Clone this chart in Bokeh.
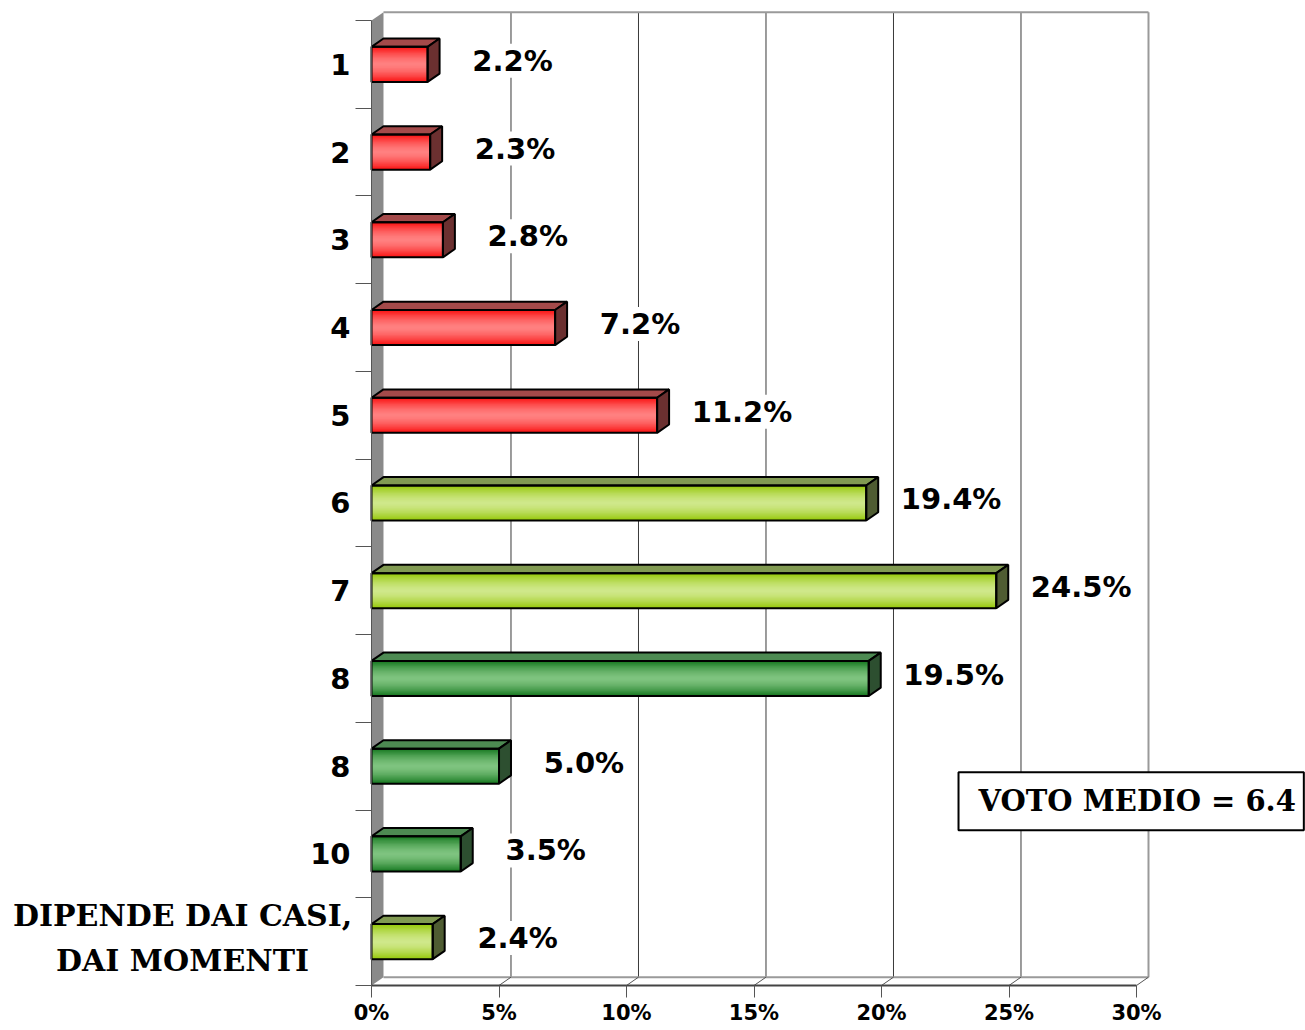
from bokeh.plotting import figure
from bokeh.models import Range1d, FixedTicker, Label
from bokeh.core.properties import value
from bokeh.embed import file_html
from bokeh.resources import INLINE

# ---- data -------------------------------------------------------------
categories = ["1", "2", "3", "4", "5", "6", "7", "8", "8", "10",
              "DIPENDE DAI CASI,\nDAI MOMENTI"]
values = [2.2, 2.3, 2.8, 7.2, 11.2, 19.4, 24.5, 19.5, 5.0, 3.5, 2.4]
groups = ["red", "red", "red", "red", "red",
          "light", "light", "dark", "dark", "dark", "light"]
x_ticks = [0, 5, 10, 15, 20, 25, 30]
x_tick_labels = ["0%", "5%", "10%", "15%", "20%", "25%", "30%"]
mean_text = "VOTO MEDIO = 6.4"

# ---- styles -----------------------------------------------------------
PAL = {
    "red":   dict(edge=(250, 20, 20), mid=(255, 130, 130), top="#a44a4a", side="#6b3030"),
    "light": dict(edge=(150, 200, 10), mid=(208, 232, 140), top="#819a52", side="#4f5c32"),
    "dark":  dict(edge=(24, 122, 34), mid=(128, 196, 128), top="#4d8a52", side="#2d4f30"),
}
DX = 0.47      # depth offset along x (percent units)
DY = 0.095     # depth offset along y (category units)
H = 0.4        # bar thickness (category units)
N_CAT = len(categories)
SANS = value("DejaVu Sans")
SERIF = value("DejaVu Serif")

p = figure(width=1305, height=1030,
           x_range=Range1d(-14.549, 36.627), y_range=Range1d(11.513, -0.228),
           output_backend="svg", toolbar_location=None, min_border=0)
p.outline_line_color = None
p.xgrid.visible = False
p.ygrid.visible = False
p.background_fill_color = "white"
p.border_fill_color = "white"

# ---- 3D walls ---------------------------------------------------------
p.patch([0, DX, DX, 0], [0, -DY, N_CAT - DY, N_CAT],
        fill_color="#8a8a8a", line_color=None)
for k in x_ticks[1:-1]:
    p.segment(k + DX, -DY, k + DX, N_CAT - DY, line_color="#3a3a3a", line_width=1)
p.segment(x_ticks[-1] + DX, -DY, x_ticks[-1] + DX, N_CAT - DY,
          line_color="#9a9a9a", line_width=2)
p.segment(DX, -DY, x_ticks[-1] + DX, -DY, line_color="#9a9a9a", line_width=2)
p.segment(DX, N_CAT - DY, x_ticks[-1] + DX, N_CAT - DY, line_color="#9a9a9a", line_width=2)
for k in x_ticks[1:]:
    p.segment(k, N_CAT, k + DX, N_CAT - DY, line_color="#555555", line_width=1)

# ---- bars -------------------------------------------------------------
def mix(a, b, t):
    return "#%02x%02x%02x" % tuple(int(round(a[j] * (1 - t) + b[j] * t)) for j in range(3))

NS = 14
sy, sh, sr, sc = [], [], [], []
top_xs, top_ys, top_c = [], [], []
side_xs, side_ys, side_c = [], [], []
centers = [i + 0.5 for i in range(N_CAT)]
for c, v, g in zip(centers, values, groups):
    pal = PAL[g]
    for k in range(NS):
        f = 1 - k / NS
        t = 1 - f ** 1.6
        sy.append(c)
        sh.append(H * f)
        sr.append(v)
        sc.append(mix(pal["edge"], pal["mid"], t))
    y0, y1 = c - H / 2, c + H / 2
    top_xs.append([0, v, v + DX, DX])
    top_ys.append([y0, y0, y0 - DY, y0 - DY])
    top_c.append(pal["top"])
    side_xs.append([v, v + DX, v + DX, v])
    side_ys.append([y0, y0 - DY, y1 - DY, y1])
    side_c.append(pal["side"])

p.hbar(y=sy, height=sh, left=0, right=sr, fill_color=sc, line_color=None)
p.patches(top_xs, top_ys, fill_color=top_c, line_color="black", line_width=2)
p.patches(side_xs, side_ys, fill_color=side_c, line_color="black", line_width=2)
p.hbar(y=centers, height=H, left=0, right=values, fill_color=None,
       line_color="black", line_width=2)

# ---- value labels -----------------------------------------------------
p.text(x=[v + DX + 2.86 for v in values], y=[c - 0.04 for c in centers],
       text=["%.1f%%" % v for v in values],
       text_font=SANS, text_font_style="bold", text_font_size="29px",
       text_align="center", text_baseline="middle", text_color="black",
       background_fill_color="white")

# ---- axes -------------------------------------------------------------
xa = p.xaxis[0]
xa.fixed_location = N_CAT
xa.ticker = FixedTicker(ticks=x_ticks)
xa.major_label_overrides = {t: l for t, l in zip(x_ticks, x_tick_labels)}
xa.bounds = (0, 30)
xa.axis_line_color = "#444444"
xa.axis_line_width = 2
xa.major_tick_out = 12
xa.major_tick_in = 0
xa.major_tick_line_color = "#555555"
xa.minor_tick_line_color = None
xa.major_label_standoff = 4
xa.major_label_text_font = "DejaVu Sans"
xa.major_label_text_font_style = "bold"
xa.major_label_text_font_size = "21px"
xa.major_label_text_color = "black"

ya = p.yaxis[0]
ya.fixed_location = 0
ya.ticker = FixedTicker(ticks=centers, minor_ticks=list(range(N_CAT + 1)))
ya.major_label_overrides = {c: (l if "\n" not in l else "") for c, l in zip(centers, categories)}
ya.bounds = (0, N_CAT)
ya.axis_line_color = "#555555"
ya.axis_line_width = 1
ya.major_tick_out = 0
ya.major_tick_in = 0
ya.minor_tick_out = 16
ya.minor_tick_in = 0
ya.minor_tick_line_color = "#555555"
ya.major_label_standoff = 5
ya.major_label_text_font = "DejaVu Sans"
ya.major_label_text_font_style = "bold"
ya.major_label_text_font_size = "29px"
ya.major_label_text_color = "black"

# multi-line category label (lines centred on each other)
ml_x, ml_y, ml_t = [], [], []
for c, l in zip(centers, categories):
    if "\n" in l:
        for j, line in enumerate(l.split("\n")):
            ml_x.append(-7.41)
            ml_y.append(c - 0.30 + j * 0.515)
            ml_t.append(line)
p.text(x=ml_x, y=ml_y, text=ml_t, text_font=SERIF, text_font_style="bold",
       text_font_size="30px", text_align="center", text_baseline="middle",
       text_color="black")

# ---- mean box ---------------------------------------------------------
p.add_layout(Label(x=23.02, y=8.90, text=mean_text,
                   text_font="DejaVu Serif", text_font_style="bold",
                   text_font_size="29px", text_align="left",
                   text_baseline="middle", text_color="black",
                   background_fill_color="white",
                   border_line_color="black", border_line_width=2,
                   padding=dict(top=12, right=8, bottom=12, left=20)))

open("out.html", "w").write(file_html(p, INLINE))
